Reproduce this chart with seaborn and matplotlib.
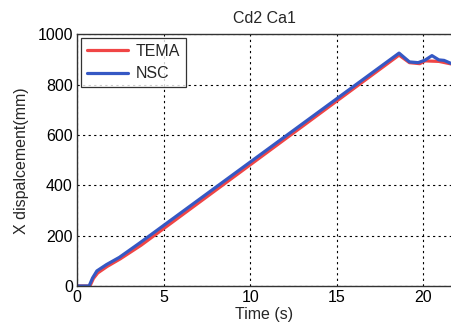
import matplotlib
matplotlib.use("Agg")
import matplotlib.pyplot as plt
import seaborn as sns
import pandas as pd

title = "Cd2 Ca1"
xlabel = "Time (s)"
ylabel = "X dispalcement(mm)"
series_names = ["TEMA", "NSC"]

tema_t = [0, 0.75, 0.95, 1.2, 1.75, 2.5, 3.7, 18.6, 19.2, 19.8, 20.1, 20.9, 21.6]
tema_y = [0, 0, 30, 52, 78, 108, 162, 918, 888, 884, 895, 893, 883]
nsc_t = [0, 0.7, 0.9, 1.15, 1.7, 2.45, 3.6, 18.6, 19.2, 19.7, 20.1, 20.5, 20.9, 21.2, 21.6]
nsc_y = [0, 0, 32, 60, 85, 114, 170, 926, 891, 888, 898, 916, 899, 897, 885]

xticks = [0, 5, 10, 15, 20]
yticks = [0, 200, 400, 600, 800, 1000]

df = pd.concat([
    pd.DataFrame({"t": tema_t, "y": tema_y, "s": series_names[0]}),
    pd.DataFrame({"t": nsc_t, "y": nsc_y, "s": series_names[1]}),
], ignore_index=True)

sns.set_style("white")
plt.rcParams["font.family"] = ["Liberation Sans", "DejaVu Sans"]

fig = plt.figure(figsize=(4.51, 3.26), dpi=100)
ax = fig.add_axes([0.1707, 0.1227, 0.8293, 0.7715])

sns.lineplot(data=df, x="t", y="y", hue="s", sort=False, estimator=None,
             palette={"TEMA": "#f04545", "NSC": "#3558c4"}, linewidth=2.3, ax=ax)

ax.set_xlim(0, 21.6)
ax.set_ylim(0, 1000)
ax.set_xticks(xticks)
ax.set_yticks(yticks)
ax.tick_params(axis="both", direction="in", length=3, labelsize=11.5, colors="black", pad=3)
ax.grid(True, linestyle=(0, (2, 3)), color="black", linewidth=0.8)
for side in ["left", "bottom", "top"]:
    ax.spines[side].set_color("#333333")
    ax.spines[side].set_linewidth(1.0)
ax.spines["right"].set_visible(False)

ax.set_title(title, fontsize=11.5, pad=8)
ax.set_xlabel(xlabel, fontsize=11.5, labelpad=1)
ax.set_ylabel(ylabel, fontsize=11.5, labelpad=6)

leg = ax.legend(loc="upper left", fontsize=11.5, frameon=True, fancybox=False,
                edgecolor="black", handlelength=2.6, handletextpad=0.5,
                borderaxespad=0.25, borderpad=0.35, labelspacing=0.45, title=None)
leg.get_frame().set_linewidth(0.9)

fig.savefig("out.png", dpi=100)
